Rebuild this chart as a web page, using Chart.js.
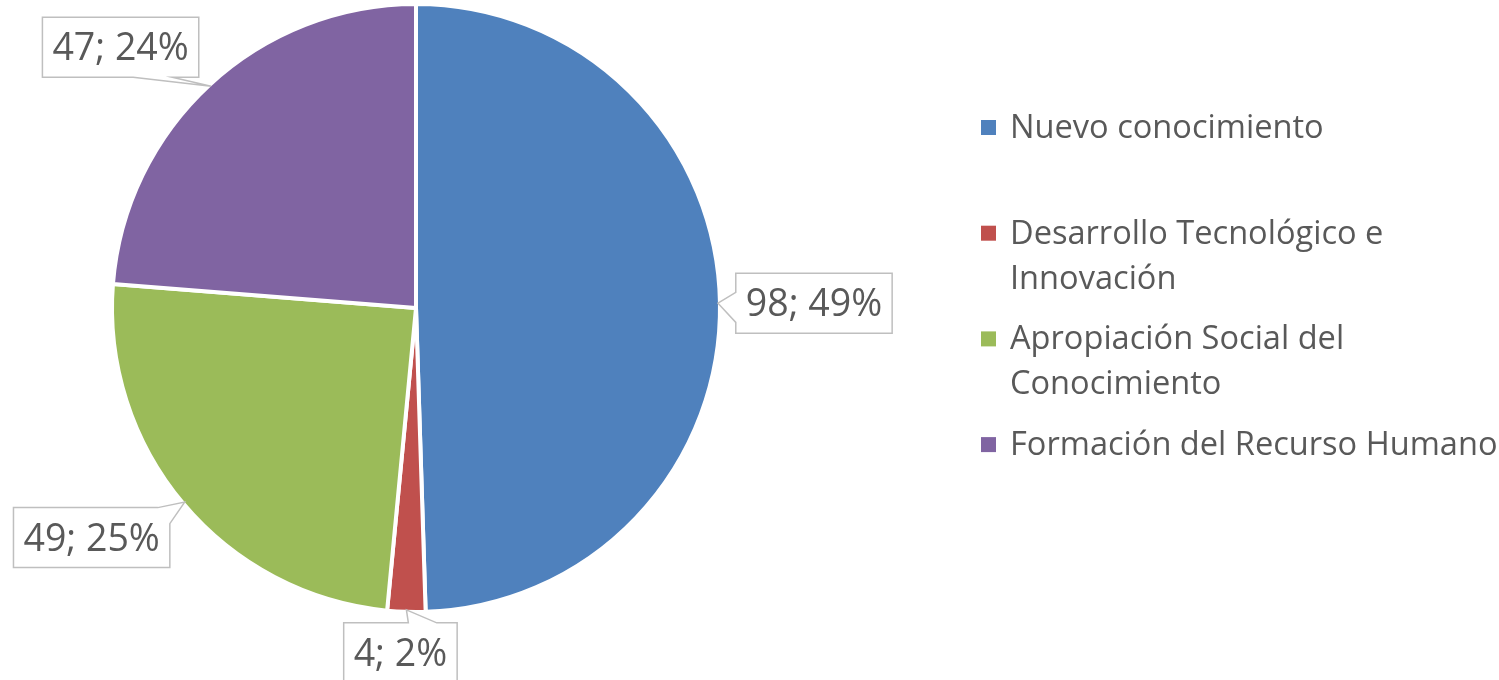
<!DOCTYPE html>
<html>
<head>
<meta charset="utf-8">
<script src="https://cdn.jsdelivr.net/npm/chart.js@4/dist/chart.umd.min.js"></script>
<style>
  html, body { margin: 0; padding: 0; background: #ffffff; }
  #wrap { width: 1499px; height: 680px; position: relative; }
</style>
</head>
<body>
<div id="wrap"><canvas id="c"></canvas></div>
<script>
// ---- data ----
const categories = [
  "Nuevo conocimiento",
  "Desarrollo Tecnológico e Innovación",
  "Apropiación Social del Conocimiento",
  "Formación del Recurso Humano"
];
const values = [98, 4, 49, 47];
const colors = ["#4F81BD", "#C0504D", "#9BBB59", "#8064A2"];

// ---- label callout styling (positions relative to slice edge) ----
const calloutOffsets = [[96, 0], [-6, 43], [-93, 35.5], [-90.5, -39]];
const calloutPointers = [
  { side: "left", a: 0.32, b: 0.82 },
  { side: "top", a: 0.57, b: 0.82 },
  { side: "tr", a: 12, b: 16 },
  { side: "bottom", a: 0.58, b: 0.83 }
];
const FONT = "'Open Sans', 'Noto Sans', sans-serif";
const TEXT_COLOR = "#595959";

function calloutPoints(x, y, w, h, tip, p) {
  if (p.side === "top") {
    return [[x, y], [x + w * p.a, y], tip, [x + w * p.b, y], [x + w, y], [x + w, y + h], [x, y + h]];
  } else if (p.side === "bottom") {
    return [[x, y], [x + w, y], [x + w, y + h], [x + w * p.b, y + h], tip, [x + w * p.a, y + h], [x, y + h]];
  } else if (p.side === "left") {
    return [[x, y], [x + w, y], [x + w, y + h], [x, y + h], [x, y + h * p.b], tip, [x, y + h * p.a]];
  } else if (p.side === "tr") {
    return [[x, y], [x + w - p.a, y], tip, [x + w, y + p.b], [x + w, y + h], [x, y + h]];
  }
  return [[x, y], [x + w, y], [x + w, y + h], [x, y + h]];
}

const calloutPlugin = {
  id: "callouts",
  afterDatasetsDraw(chart) {
    const ctx = chart.ctx;
    const meta = chart.getDatasetMeta(0);
    const data = chart.data.datasets[0].data;
    const total = data.reduce((s, v) => s + v, 0);
    const fs = 37.5;
    ctx.save();
    ctx.font = fs + "px " + FONT;
    meta.data.forEach((arc, i) => {
      const mid = (arc.startAngle + arc.endAngle) / 2;
      const R = arc.outerRadius - 2;
      const tip = [arc.x + Math.cos(mid) * R, arc.y + Math.sin(mid) * R];
      const txt = data[i] + "; " + Math.round(data[i] / total * 100) + "%";
      const tw = ctx.measureText(txt).width;
      const w = tw + 20, h = 60;
      const cx = tip[0] + calloutOffsets[i][0];
      const cy = tip[1] + calloutOffsets[i][1];
      const x = cx - w / 2, y = cy - h / 2;
      const pts = calloutPoints(x, y, w, h, tip, calloutPointers[i]);
      ctx.beginPath();
      pts.forEach((p, k) => k ? ctx.lineTo(p[0], p[1]) : ctx.moveTo(p[0], p[1]));
      ctx.closePath();
      ctx.fillStyle = "#ffffff";
      ctx.fill();
      ctx.lineWidth = 1.5;
      ctx.strokeStyle = "#BFBFBF";
      ctx.stroke();
      ctx.fillStyle = TEXT_COLOR;
      ctx.textAlign = "center";
      ctx.textBaseline = "alphabetic";
      ctx.fillText(txt, cx, cy + fs * 0.345);
    });
    ctx.restore();
  }
};

const legendPlugin = {
  id: "sideLegend",
  afterDraw(chart) {
    const ctx = chart.ctx;
    const fs = 32.6;
    const x0 = 981, tx = 1010, maxW = 488;
    const firstBase = 138, slot = 105.7, lineH = 45;
    ctx.save();
    ctx.font = fs + "px " + FONT;
    ctx.textAlign = "left";
    ctx.textBaseline = "alphabetic";
    chart.data.labels.forEach((lab, i) => {
      const words = lab.split(" ");
      const lines = [];
      let cur = "";
      words.forEach(wd => {
        const t = cur ? cur + " " + wd : wd;
        if (ctx.measureText(t).width > maxW && cur) { lines.push(cur); cur = wd; }
        else cur = t;
      });
      lines.push(cur);
      const base = firstBase + i * slot;
      ctx.fillStyle = chart.data.datasets[0].backgroundColor[i];
      ctx.fillRect(x0, base - 18, 15, 15);
      ctx.fillStyle = TEXT_COLOR;
      lines.forEach((ln, k) => ctx.fillText(ln, tx, base + k * lineH));
    });
    ctx.restore();
  }
};

new Chart(document.getElementById("c"), {
  type: "pie",
  data: {
    labels: categories,
    datasets: [{
      data: values,
      backgroundColor: colors,
      borderColor: "#ffffff",
      borderWidth: 4,
      hoverOffset: 0
    }]
  },
  options: {
    responsive: true,
    maintainAspectRatio: false,
    animation: false,
    radius: 304,
    layout: { padding: { left: 0, top: 0, right: 667, bottom: 64 } },
    plugins: {
      legend: { display: false },
      tooltip: { enabled: false }
    }
  },
  plugins: [calloutPlugin, legendPlugin]
});
</script>
</body>
</html>
